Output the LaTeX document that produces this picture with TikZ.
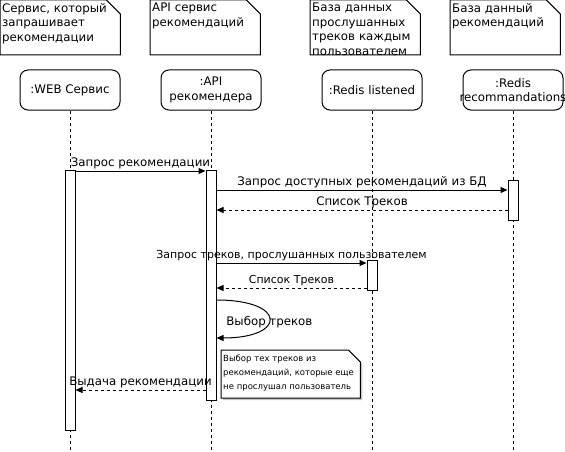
\documentclass[tikz,border=0pt]{standalone}
\usepackage{fontspec}
\setmainfont{DejaVu Sans}
\usepackage{tikz}
\usetikzlibrary{positioning, backgrounds, shadows}
\usetikzlibrary{arrows.meta}
\tikzset{>={Triangle[width=6pt,length=7pt]}}

\begin{document}
\begin{tikzpicture}[x=1pt, y=-1pt, font=\fontsize{11.8}{14.5}\selectfont,
    head/.style={rectangle, rounded corners=8pt, draw=black, line width=1pt, minimum width=100pt, minimum height=40pt, align=center, inner sep=1pt},
    act/.style={rectangle, draw=black, fill=white, line width=1pt, minimum width=10pt, inner sep=0pt, anchor=north},
    note/.style={align=left, anchor=north west, inner xsep=2pt, inner ysep=3pt},
    notebox/.style={draw=black, fill=white, line width=1pt},
    lifeline/.style={line width=1pt, dash pattern=on 3pt off 3pt},
    msg/.style={->, line width=1pt},
    reply/.style={->, line width=1pt, dash pattern=on 3pt off 3pt},
    msglabel/.style={above, inner sep=1.5pt},
    smalllabel/.style={above, inner sep=1.5pt, font=\fontsize{11}{13}\selectfont} ]

    \useasboundingbox (0,0) rectangle (565,452);

    %Nodes
    \node[head] (head_web) at (70,90) {:WEB Сервис};
    \node[head] (head_api) [right=40pt of head_web] {:API\\рекомендера};
    \node[head] (head_listen) [right=60pt of head_api] {:Redis listened};
    \node[head] (head_rec) [right=40pt of head_listen] {:Redis\\\makebox[90pt]{recommandations}};

    \node[note, text width=116pt] (note_web) at (0,0) {Сервис, который\\запрашивает\\рекомендации};
    \node[note, text width=106pt] (note_api) at (150,0) {API сервис\\рекомендаций};
    \node[note, text width=106pt] (note_listen) at (310,0) {База данных\\прослушанных\\треков каждым\\пользователем};
    \node[note, text width=106pt] (note_rec) at (450,0) {База данный\\рекомендаций};

    \coordinate (top_long) at (0,170);
    \coordinate (top_rec) at (0,180);
    \coordinate (top_listen) at (0,260);
    \coordinate (bottom) at (0,452);

    \node[act, minimum height=260pt] (act_web) at (head_web |- top_long) {};
    \node[act, minimum height=230pt] (act_api) at (head_api |- top_long) {};
    \node[act, minimum height=40pt] (act_rec) at (head_rec |- top_rec) {};
    \node[act, minimum height=30pt] (act_listen) at (head_listen |- top_listen) {};

    \node[note, text width=135pt, inner ysep=5pt, font=\fontsize{8.5}{14}\selectfont] (note_pick) at (221,350) {Выбор тех треков из\\рекомендаций, которые еще\\не прослушал пользователь};

    %Lines
    \begin{scope}[on background layer]
    \foreach \n in {note_web, note_api, note_listen, note_rec}
        \draw[notebox] (\n.north west) -- ([xshift=-14pt]\n.north east) -- ([yshift=-14pt]\n.north east)
            -- ([yshift=-55pt]\n.north east) -- ([yshift=-55pt]\n.north west) -- cycle;
    \draw[notebox, drop shadow={shadow xshift=2pt, shadow yshift=-2pt, fill=black!45}] (note_pick.north west) -- ([xshift=-12pt]note_pick.north east) -- ([yshift=-12pt]note_pick.north east)
        -- ([yshift=-48pt]note_pick.north east) -- ([yshift=-48pt]note_pick.north west) -- cycle;
    \foreach \h in {head_web, head_api, head_listen, head_rec}
        \draw[lifeline] (\h.south) -- (\h.south |- bottom);
    \end{scope}

    \coordinate (y_req) at (0,171);
    \coordinate (y_ask_rec) at (0,190);
    \coordinate (y_list_rec) at (0,210);
    \coordinate (y_ask_listen) at (0,263);
    \coordinate (y_list_listen) at (0,288);
    \coordinate (self_a) at (287,300);
    \coordinate (self_b) at (287,338);
    \coordinate (y_self_start) at (0,300);
    \coordinate (y_self_end) at (0,338);
    \coordinate (y_answer) at (0,390);

    \draw[msg] (act_web.east |- y_req) -- node[msglabel] {Запрос рекомендации} (act_api.west |- y_req);
    \draw[msg] (act_api.east |- y_ask_rec) -- node[msglabel] {Запрос доступных рекомендаций из БД} (act_rec.west |- y_ask_rec);
    \draw[reply] (act_rec.west |- y_list_rec) -- node[msglabel] {Список Треков} (act_api.east |- y_list_rec);
    \draw[msg] (act_api.east |- y_ask_listen) -- node[smalllabel] {Запрос треков, прослушанных пользователем} (act_listen.west |- y_ask_listen);
    \draw[reply] (act_listen.west |- y_list_listen) -- node[smalllabel] {Список Треков} (act_api.east |- y_list_listen);
    \draw[msg] (act_api.east |- y_self_start) .. controls (self_a) and (self_b) .. node[pos=0.5, yshift=-3pt] {Выбор треков} (act_api.east |- y_self_end);
    \draw[reply] (act_api.west |- y_answer) -- node[msglabel] {Выдача рекомендации} (act_web.east |- y_answer);
    \end{tikzpicture}
\end{document}
